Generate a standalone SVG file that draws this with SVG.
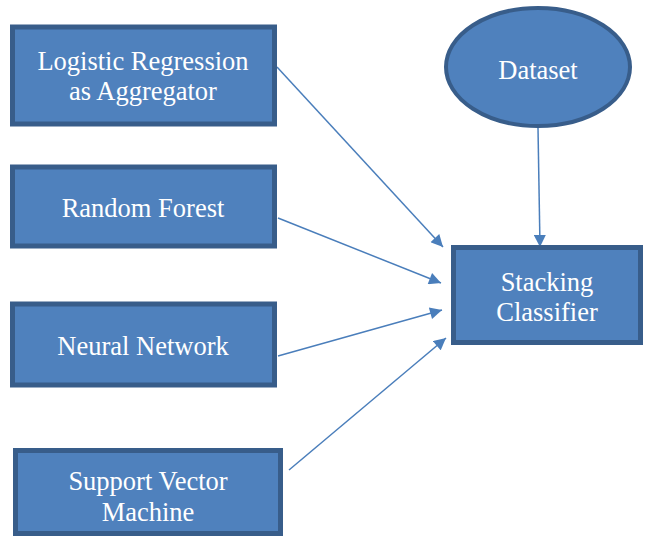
<svg xmlns="http://www.w3.org/2000/svg" width="647" height="536" viewBox="0 0 647 536">
<defs>
<style>
.box{fill:#4F81BD;stroke:#385D8A;stroke-width:5}
.t{font-family:"Liberation Serif","Times New Roman",serif;font-size:26.5px;fill:#fff;text-anchor:middle}
.c{stroke:#4A7EBB;stroke-width:1.5;fill:none;marker-end:url(#ah)}
</style>
<marker id="ah" viewBox="0 0 10 10" refX="10" refY="5" markerWidth="14" markerHeight="12" markerUnits="userSpaceOnUse" orient="auto">
<path d="M0,0 L10,5 L0,10 z" fill="#4A7EBB"/>
</marker>
</defs>
<rect width="647" height="536" fill="#fff"/>
<g id="connectors">
<line class="c" x1="277" y1="67" x2="443" y2="247"/>
<line class="c" x1="278" y1="218" x2="441" y2="283"/>
<line class="c" x1="278" y1="356" x2="442" y2="310"/>
<line class="c" x1="289" y1="470" x2="446" y2="338"/>
<line class="c" x1="538" y1="128" x2="540" y2="247"/>
</g>
<g id="logistic">
<rect class="box" x="12.5" y="27" width="262" height="97"/>
<text class="t" x="143" y="70">Logistic Regression</text>
<text class="t" x="143" y="100">as Aggregator</text>
</g>
<g id="randomforest">
<rect class="box" x="12.5" y="167" width="262" height="79"/>
<text class="t" x="143" y="217">Random Forest</text>
</g>
<g id="neuralnetwork">
<rect class="box" x="12.5" y="304" width="262" height="81"/>
<text class="t" x="143" y="355">Neural Network</text>
</g>
<g id="svm">
<rect class="box" x="15.5" y="450.5" width="265" height="83"/>
<text class="t" x="148" y="490">Support Vector</text>
<text class="t" x="148" y="521">Machine</text>
</g>
<g id="dataset">
<ellipse cx="538" cy="67" rx="92" ry="59" fill="#4F81BD" stroke="#385D8A" stroke-width="4"/>
<text class="t" x="538" y="79">Dataset</text>
</g>
<g id="stacking">
<rect class="box" x="453.5" y="247.5" width="187" height="95"/>
<text class="t" x="547" y="291">Stacking</text>
<text class="t" x="547" y="321">Classifier</text>
</g>
</svg>
